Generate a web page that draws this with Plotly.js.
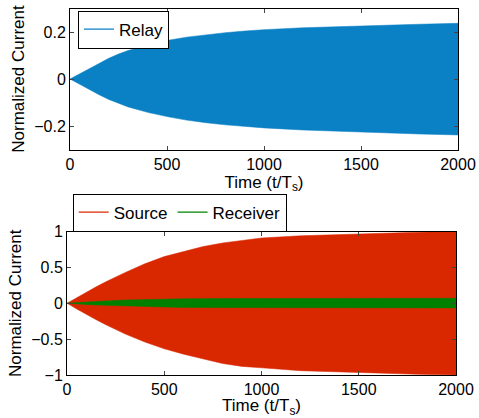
<!DOCTYPE html>
<html>
<head>
<meta charset="utf-8">
<script src="https://cdn.plot.ly/plotly-3.0.1.min.js"></script>
<style>html,body{margin:0;padding:0;background:#fff;}#chart{width:479px;height:418px;}</style>
</head>
<body>
<div id="chart"></div>
<script>
// Envelope sample times (t/Ts)
var tRelay = [0, 25, 50, 75, 100, 150, 200, 250, 300, 400, 500, 600, 700, 800, 900, 1000, 1200, 1400, 1600, 1800, 2000];
var relayUpper = [0, 0.011, 0.022, 0.034, 0.045, 0.068, 0.088, 0.106, 0.121, 0.145, 0.164, 0.178, 0.188, 0.197, 0.204, 0.21, 0.218, 0.224, 0.229, 0.233, 0.237];
var relayLower = [0, -0.011, -0.022, -0.033, -0.045, -0.067, -0.087, -0.104, -0.119, -0.142, -0.16, -0.175, -0.186, -0.195, -0.202, -0.208, -0.217, -0.224, -0.229, -0.234, -0.238];

var tSource = [0, 25, 50, 75, 100, 150, 200, 250, 300, 400, 500, 600, 700, 800, 900, 1000, 1200, 1400, 1600, 1800, 2000];
var sourceUpper = [0, 0.04, 0.08, 0.12, 0.16, 0.23, 0.3, 0.37, 0.43, 0.55, 0.65, 0.72, 0.79, 0.84, 0.88, 0.91, 0.94, 0.96, 0.975, 0.99, 1.0];
var sourceLower = [0, -0.04, -0.08, -0.12, -0.16, -0.23, -0.3, -0.37, -0.43, -0.54, -0.635, -0.71, -0.78, -0.84, -0.88, -0.9, -0.94, -0.96, -0.975, -0.99, -1.0];

var tReceiver = [0, 50, 100, 150, 200, 300, 400, 500, 600, 800, 1000, 1500, 2000];
var receiverUpper = [0, 0.01, 0.02, 0.027, 0.033, 0.045, 0.052, 0.058, 0.062, 0.066, 0.068, 0.07, 0.07];
var receiverLower = [0, -0.008, -0.017, -0.024, -0.03, -0.04, -0.047, -0.053, -0.058, -0.062, -0.064, -0.065, -0.065];

var xTicks = [0, 500, 1000, 1500, 2000];
var yTicksTop = [-0.2, 0, 0.2];
var yTicksBottom = [-1, -0.5, 0, 0.5, 1];

var blue = '#0a80c5', red = '#d92800', green = '#008000';

function band(t, up, lo, color, xa, ya) {
  var xs = t.concat(t.slice().reverse());
  var ys = up.concat(lo.slice().reverse());
  return {x: xs, y: ys, xaxis: xa, yaxis: ya, mode: 'lines', fill: 'toself',
    line: {width: 0.5, color: color}, fillcolor: color,
    showlegend: false, hoverinfo: 'skip'};
}
function legendEntry(name, color, xa, ya, lg) {
  return {x: [null], y: [null], xaxis: xa, yaxis: ya, type: 'scatter', mode: 'lines', name: name,
    line: {color: color, width: 1.3}, marker: {color: color}, legend: lg, showlegend: true};
}

var data = [
  band(tRelay, relayUpper, relayLower, blue, 'x', 'y'),
  legendEntry('Relay', blue, 'x', 'y', 'legend'),
  band(tSource, sourceUpper, sourceLower, red, 'x2', 'y2'),
  band(tReceiver, receiverUpper, receiverLower, green, 'x2', 'y2'),
  legendEntry('Source', red, 'x2', 'y2', 'legend2'),
  legendEntry('Receiver', green, 'x2', 'y2', 'legend2')
];

var F = {family: 'Liberation Sans, Arial, sans-serif', size: 17, color: '#000'};
var TF = {family: 'Liberation Sans, Arial, sans-serif', size: 16, color: '#000'};
function xa(domain, anchor) {
  return {domain: domain, anchor: anchor, range: [0, 2000], tickvals: xTicks, ticks: 'inside', ticklen: 4,
    showline: true, mirror: 'ticks', linecolor: '#000', linewidth: 1, showgrid: false, zeroline: false,
    tickfont: TF, title: {text: 'Time (t/T<sub>s</sub>)', font: F, standoff: 2}};
}
function ya(domain, anchor, range, ticks) {
  return {domain: domain, anchor: anchor, range: range, tickvals: ticks, ticks: 'inside', ticklen: 4,
    showline: true, mirror: 'ticks', linecolor: '#000', linewidth: 1, showgrid: false, zeroline: false,
    tickfont: TF, title: {text: 'Normalized Current', font: F, standoff: 5}};
}

var layout = {
  width: 479, height: 418,
  margin: {l: 0, r: 0, t: 0, b: 0},
  paper_bgcolor: '#fff', plot_bgcolor: '#fff',
  xaxis: xa([70/479, 458/479], 'y'),
  yaxis: ya([1 - 149.5/418, 1 - 8.5/418], 'x', [-0.3, 0.3], yTicksTop),
  xaxis2: xa([67/479, 456/479], 'y2'),
  yaxis2: ya([1 - 375/418, 1 - 231.5/418], 'x2', [-1, 1], yTicksBottom),
  legend: {x: 78/479, y: 1 - 29.5/418, xanchor: 'left', yanchor: 'middle', bgcolor: '#fff',
    bordercolor: '#000', borderwidth: 1, font: F, tracegroupgap: 0},
  legend2: {x: 72.7/479, y: 1 - 212.5/418, xanchor: 'left', yanchor: 'middle', orientation: 'h', bgcolor: '#fff',
    bordercolor: '#000', borderwidth: 1, font: F}
};

Plotly.newPlot('chart', data, layout, {displayModeBar: false, staticPlot: true});
</script>
</body>
</html>
